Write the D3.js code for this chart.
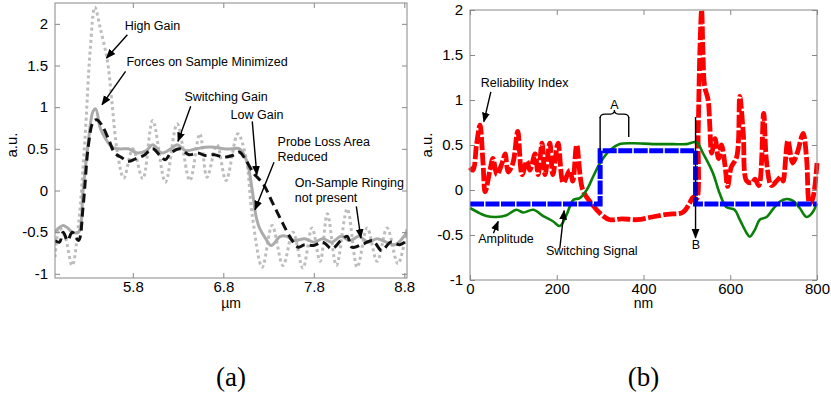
<!DOCTYPE html>
<html>
<head>
<meta charset="utf-8">
<script src="https://cdn.jsdelivr.net/npm/d3@7"></script>
<style>
  body { margin: 0; background: #fff; }
  text { font-family: "Liberation Sans", Arial, sans-serif; }
  .tick text { font-size: 15px; fill: #000; }
  .tick line { stroke: #888; }
  .domain { display: none; }
  .note { font-size: 12.5px; }
</style>
</head>
<body>
<script>
// ---- panel (a) data, x in um ----
var highGain = [[4.94,-0.8],[4.99,-0.45],[5.05,-0.55],[5.13,-0.9],[5.20,-0.4],[5.27,0.6],[5.33,1.7],[5.38,2.2],
  [5.44,1.95],[5.52,1.55],[5.57,1.05],[5.63,0.45],[5.70,0.15],[5.80,0.5],[5.91,0.14],[6.02,0.84],[6.16,0.1],
  [6.29,0.8],[6.43,0.12],[6.54,0.68],[6.62,0.16],[6.73,0.55],[6.83,0.12],[6.96,0.68],[7.05,0.4],[7.12,-0.3],
  [7.23,-0.92],[7.34,-0.42],[7.46,-0.9],[7.57,-0.5],[7.68,-0.93],[7.78,-0.45],[7.87,-0.85],[7.95,-0.28],
  [8.05,-0.9],[8.17,-0.22],[8.28,-0.92],[8.39,-0.45],[8.50,-0.85],[8.61,-0.45],[8.73,-0.88],[8.83,-0.45]];
var switchGain = [[4.94,-0.5],[4.98,-0.45],[5.03,-0.42],[5.08,-0.45],[5.13,-0.5],[5.20,-0.5],[5.25,0.0],[5.31,0.6],
  [5.36,0.95],[5.39,0.98],[5.44,0.75],[5.50,0.62],[5.57,0.52],[5.65,0.5],[5.75,0.5],[5.85,0.45],[5.95,0.48],
  [6.02,0.55],[6.12,0.45],[6.22,0.5],[6.29,0.55],[6.38,0.48],[6.50,0.5],[6.60,0.52],[6.70,0.52],[6.80,0.5],
  [6.90,0.5],[6.98,0.5],[7.06,0.35],[7.12,0.0],[7.16,-0.3],[7.20,-0.45],[7.27,-0.58],[7.33,-0.66],[7.43,-0.55],
  [7.50,-0.55],[7.58,-0.6],[7.70,-0.58],[7.80,-0.62],[7.90,-0.58],[8.00,-0.62],[8.10,-0.55],[8.20,-0.6],
  [8.30,-0.55],[8.40,-0.62],[8.50,-0.58],[8.60,-0.62],[8.70,-0.65],[8.83,-0.5]];
var lowGain = [[4.94,-0.6],[4.99,-0.62],[5.03,-0.5],[5.08,-0.6],[5.13,-0.5],[5.20,-0.6],[5.25,-0.2],[5.31,0.55],
  [5.36,0.82],[5.40,0.85],[5.46,0.78],[5.53,0.62],[5.60,0.45],[5.67,0.4],[5.75,0.35],[5.83,0.38],[5.92,0.42],
  [6.02,0.5],[6.10,0.42],[6.16,0.37],[6.22,0.45],[6.32,0.5],[6.42,0.43],[6.52,0.45],[6.60,0.42],[6.70,0.43],
  [6.80,0.4],[6.90,0.42],[6.98,0.46],[7.04,0.38],[7.14,0.2],[7.24,0.08],[7.35,-0.16],[7.46,-0.4],[7.56,-0.6],
  [7.63,-0.68],[7.70,-0.65],[7.80,-0.66],[7.90,-0.62],[8.00,-0.7],[8.10,-0.6],[8.17,-0.55],[8.22,-0.68],
  [8.35,-0.64],[8.45,-0.6],[8.55,-0.72],[8.65,-0.62],[8.75,-0.65],[8.83,-0.6]];
var ticksAx = [5.8, 6.8, 7.8, 8.8];
var ticksAy = [-1, -0.5, 0, 0.5, 1, 1.5, 2];

// ---- panel (b) data, x in nm ----
var reliability = [[0,0.25],[7,0.22],[15,0.5],[23,0.72],[30,0.3],[35,-0.02],[46,0.22],[53,0.35],[62,0.17],[74,0.3],
  [81,0.4],[88,0.2],[99,0.3],[110,0.65],[120,0.17],[131,0.32],[138,0.22],[150,0.4],[157,0.17],[166,0.52],[173,0.17],
  [184,0.52],[191,0.17],[203,0.52],[215,0.08],[230,0.22],[237,0.1],[246,0.5],[260,0.0],[280,-0.15],[300,-0.26],
  [322,-0.33],[350,-0.32],[385,-0.33],[420,-0.3],[454,-0.27],[490,-0.25],[506,-0.15],[514,-0.08],[522,-0.1],
  [526,0.63],[530,1.55],[534,2.0],[537,1.55],[541,1.15],[549,1.0],[553,0.7],[557,0.41],[565,0.57],[573,0.35],
  [580,0.5],[588,0.27],[594,0.04],[602,0.25],[615,0.37],[622,1.04],[630,0.63],[638,0.1],[650,0.08],[657,0.12],
  [666,0.05],[677,0.85],[684,0.3],[695,0.05],[707,0.1],[718,0.15],[722,0.1],[733,0.55],[744,0.3],[755,0.42],
  [768,0.63],[776,0.35],[783,-0.15],[790,-0.1],[800,0.3]];
var switching = [[0,-0.155],[300,-0.155],[300,0.437],[520,0.437],[520,-0.155],[800,-0.155]];
var amplitude = [[0,-0.2],[23,-0.26],[38,-0.29],[61,-0.3],[84,-0.28],[107,-0.22],[123,-0.25],[146,-0.22],
  [169,-0.29],[192,-0.35],[207,-0.4],[223,-0.27],[238,-0.11],[253,-0.09],[269,0.0],[284,0.15],[300,0.3],
  [322,0.44],[345,0.51],[376,0.52],[422,0.51],[468,0.51],[499,0.51],[522,0.53],[537,0.41],[560,0.19],
  [575,-0.03],[591,-0.19],[610,-0.22],[622,-0.33],[638,-0.48],[645,-0.52],[657,-0.44],[668,-0.33],[684,-0.3],
  [699,-0.21],[714,-0.13],[730,-0.1],[745,-0.12],[760,-0.2],[776,-0.3],[788,-0.26],[800,-0.15]];
var ticksBx = [0, 200, 400, 600, 800];
var ticksBy = [-1, -0.5, 0, 0.5, 1, 1.5, 2];

// annotations, in data units
var notesA = [
  {lines:["High Gain"], x:5.71, y:1.93, from:[5.74,1.87], to:[5.51,1.59]},
  {lines:["Forces on Sample Minimized"], x:5.73, y:1.49, from:[5.72,1.43], to:[5.46,1.03]},
  {lines:["Switching Gain"], x:6.37, y:1.08, from:[6.44,1.01], to:[6.30,0.59]},
  {lines:["Low Gain"], x:6.88, y:0.86, from:[7.12,0.83], to:[7.17,0.19]},
  {lines:["Probe Loss Area","Reduced"], x:7.40, y:0.53, from:[7.36,0.34], to:[7.15,-0.23]},
  {lines:["On-Sample Ringing","not present"], x:7.59, y:0.04, from:[8.27,-0.19], to:[8.32,-0.57]}
];
var notesB = [
  {lines:["Reliability Index"], x:25, y:1.14, from:[48,1.09], to:[32,0.76]},
  {lines:["Amplitude"], x:19, y:-0.59, from:[54,-0.48], to:[65,-0.35]},
  {lines:["Switching Signal"], x:175, y:-0.72, from:[207,-0.65], to:[217,-0.23]},
  {lines:["B"], x:511, y:-0.66, from:[520,0.81], to:[520,-0.53]}
];

var svg = d3.select("body").append("svg")
    .attr("width", 831).attr("height", 394);

svg.append("defs").append("marker")
    .attr("id", "arr").attr("viewBox", "0 0 10 10")
    .attr("refX", 9).attr("refY", 5)
    .attr("markerWidth", 7).attr("markerHeight", 7)
    .attr("orient", "auto")
  .append("path").attr("d", "M0,1 L10,5 L0,9 z").attr("fill", "#000");

function frame(g, x, y, tx, ty, xlab, cap) {
  var r = x.range(), h = y.range();
  g.append("rect")
      .attr("x", r[0]).attr("y", h[1])
      .attr("width", r[1] - r[0]).attr("height", h[0] - h[1])
      .attr("fill", "none").attr("stroke", "#888");
  g.append("g").attr("transform", "translate(0," + h[0] + ")")
      .call(d3.axisBottom(x).tickValues(tx).tickSize(-5).tickPadding(3).tickFormat(String));
  g.append("g").attr("transform", "translate(" + r[0] + ",0)")
      .call(d3.axisLeft(y).tickValues(ty).tickSize(-5).tickPadding(7).tickFormat(String));
  g.append("g").attr("transform", "translate(0," + h[1] + ")")
      .call(d3.axisTop(x).tickValues(tx).tickSize(-5).tickFormat(""));
  g.append("g").attr("transform", "translate(" + r[1] + ",0)")
      .call(d3.axisRight(y).tickValues(ty).tickSize(-5).tickFormat(""));
  g.append("text").attr("x", (r[0] + r[1]) / 2).attr("y", 308)
      .attr("text-anchor", "middle").style("font-size", "14px").text(xlab);
  g.append("text")
      .attr("transform", "translate(" + (r[0] - 38) + ",145) rotate(-90)")
      .attr("text-anchor", "middle").style("font-size", "15px").text("a.u.");
  g.append("text").attr("x", (r[0] + r[1]) / 2).attr("y", 386)
      .attr("text-anchor", "middle")
      .style("font-family", "'Liberation Serif', 'DejaVu Serif', serif")
      .style("font-size", "27px").text(cap);
}

function notes(g, x, y, list) {
  list.forEach(function(n) {
    var t = g.append("text").attr("class", "note")
        .attr("x", x(n.x)).attr("y", y(n.y));
    n.lines.forEach(function(s, i) {
      t.append("tspan").attr("x", x(n.x)).attr("dy", i ? 14.5 : 0).text(s);
    });
    g.append("line")
        .attr("x1", x(n.from[0])).attr("y1", y(n.from[1]))
        .attr("x2", x(n.to[0])).attr("y2", y(n.to[1]))
        .attr("stroke", "#000").attr("stroke-width", 1.4)
        .attr("marker-end", "url(#arr)");
  });
}

// ---- panel (a) ----
var xA = d3.scaleLinear().domain([4.94, 8.83]).range([55, 407]);
var yA = d3.scaleLinear().domain([-1.05, 2.25]).range([278, 3]);
var lineA = d3.line().curve(d3.curveCatmullRom)
    .x(function(d) { return xA(d[0]); })
    .y(function(d) { return yA(d[1]); });
var gA = svg.append("g");
gA.append("defs").append("clipPath").attr("id", "clipA")
  .append("rect").attr("x", 55).attr("y", 3).attr("width", 352).attr("height", 275);
var plA = gA.append("g").attr("clip-path", "url(#clipA)");
plA.append("path").attr("d", lineA(highGain)).attr("fill", "none")
    .attr("stroke", "#bdbdbd").attr("stroke-width", 3).attr("stroke-dasharray", "3,3");
plA.append("path").attr("d", lineA(switchGain)).attr("fill", "none")
    .attr("stroke", "#ababab").attr("stroke-width", 3);
plA.append("path").attr("d", lineA(lowGain)).attr("fill", "none")
    .attr("stroke", "#111").attr("stroke-width", 3).attr("stroke-dasharray", "9,5");
frame(gA, xA, yA, ticksAx, ticksAy, "\u00b5m", "(a)");
notes(gA, xA, yA, notesA);

// ---- panel (b) ----
var xB = d3.scaleLinear().domain([0, 800]).range([470, 817]);
var yB = d3.scaleLinear().domain([-1, 2]).range([280, 10]);
var lineB = d3.line()
    .x(function(d) { return xB(d[0]); })
    .y(function(d) { return yB(d[1]); });
var gB = svg.append("g");
gB.append("path").attr("d", lineB.curve(d3.curveCatmullRom)(reliability)).attr("fill", "none")
    .attr("stroke", "#ff0000").attr("stroke-width", 4.8).attr("stroke-dasharray", "13,2.5");
gB.append("path").attr("d", lineB.curve(d3.curveCatmullRom)(amplitude)).attr("fill", "none")
    .attr("stroke", "#0a800a").attr("stroke-width", 2.6);
gB.append("path").attr("d", lineB.curve(d3.curveLinear)(switching)).attr("fill", "none")
    .attr("stroke", "#0000ff").attr("stroke-width", 5).attr("stroke-dasharray", "14,1.5");
frame(gB, xB, yB, ticksBx, ticksBy, "nm", "(b)");
notes(gB, xB, yB, notesB);

// bracket "A" over the switching delay
var bx0 = xB(300), bx1 = xB(366), by = yB(0.81), bm = (bx0 + bx1) / 2;
gB.append("path")
    .attr("d", "M" + bx0 + "," + (by + 1) + " Q" + bx0 + "," + (by - 3) + " " + (bx0 + 5) + "," + (by - 3) +
      " L" + (bm - 4) + "," + (by - 3) + " Q" + bm + "," + (by - 3) + " " + bm + "," + (by - 7) +
      " Q" + bm + "," + (by - 3) + " " + (bm + 4) + "," + (by - 3) +
      " L" + (bx1 - 5) + "," + (by - 3) + " Q" + bx1 + "," + (by - 3) + " " + bx1 + "," + (by + 1))
    .attr("fill", "none").attr("stroke", "#000").attr("stroke-width", 1.2);
gB.append("line").attr("x1", bx0).attr("x2", bx0).attr("y1", by).attr("y2", yB(0.44))
    .attr("stroke", "#000").attr("stroke-width", 1.4);
gB.append("line").attr("x1", bx1).attr("x2", bx1).attr("y1", by).attr("y2", yB(0.59))
    .attr("stroke", "#000").attr("stroke-width", 1.4);
gB.append("text").attr("class", "note").attr("x", bm).attr("y", yB(0.9))
    .attr("text-anchor", "middle").text("A");
</script>
</body>
</html>
